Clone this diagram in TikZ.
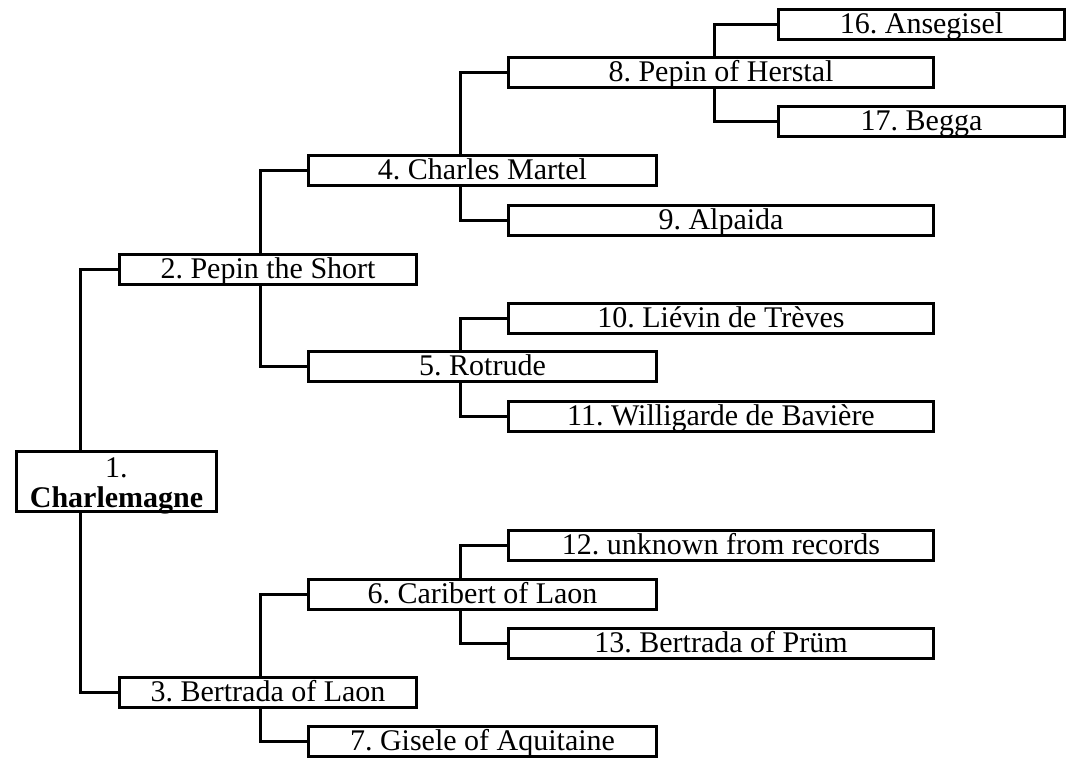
\documentclass[tikz,border=0pt]{standalone}
\usepackage{fontspec}
\setmainfont{Liberation Serif}
\frenchspacing
\usetikzlibrary{positioning}
\tikzset{
  %% ---- boxes ----
  person/.style = {rectangle, draw=black, line width=3pt, fill=white,
                   minimum width=#1, minimum height=30pt, inner sep=0pt,
                   text height=24pt, text depth=6pt,
                   font=\fontsize{30}{34}\selectfont},
  person/.default = 297pt,
  root/.style   = {rectangle, draw=black, line width=3pt, fill=white,
                   minimum width=200pt, minimum height=60pt, inner sep=0pt,
                   text height=52pt, text depth=1pt,
                   align=center, font=\fontsize{30}{30}\selectfont},
  %% ---- connectors ----
  link/.style   = {line width=3pt, color=black},
}
\begin{document}
\begin{tikzpicture}[x=1pt, y=-1pt]
\useasboundingbox (0,0) rectangle (1077,759);
% generation 1 and 2
\node[root]               (n1)  at (116.5,481.5) {1.\\\textbf{Charlemagne}};
\node[person]             (n2)  at (268,269.5)   {2. Pepin the Short};
\node[person]             (n3)  at (268,692)     {3. Bertrada of Laon};
% generation 3
\node[person=348pt]       (n4)  at (482.5,171)   {4. Charles Martel};
\node[person=348pt]       (n5)  at (482.5,367)   {5. Rotrude};
\node[person=348pt]       (n6)  at (482.5,594)   {6. Caribert of Laon};
\node[person=348pt]       (n7)  at (482.5,741)   {7. Gisele of Aquitaine};
% generation 4
\node[person=425pt]       (n8)  at (721,73)      {8. Pepin of Herstal};
\node[person=425pt]       (n9)  at (721,221)     {9. Alpaida};
\node[person=425pt]       (n10) at (721,318.5)   {10. Liévin de Trèves};
\node[person=425pt]       (n11) at (721,416.5)   {11. Willigarde de Bavière};
\node[person=425pt]       (n12) at (721,545.5)   {12. unknown from records};
\node[person=425pt]       (n13) at (721,643)     {13. Bertrada of Prüm};
% generation 5
\node[person=286pt]       (n16) at (921.5,24.5)  {16. Ansegisel};
\node[person=286pt]       (n17) at (921.5,122)   {17. Begga};
% parent links
\draw[link] ([xshift=-36.5pt]n1.north) |- (n2.west);
\draw[link] ([xshift=-36.5pt]n1.south) |- (n3.west);
\draw[link] ([xshift=-8pt]n2.north)    |- (n4.west);
\draw[link] ([xshift=-8pt]n2.south)    |- (n5.west);
\draw[link] ([xshift=-8pt]n3.north)    |- (n6.west);
\draw[link] ([xshift=-8pt]n3.south)    |- (n7.west);
\draw[link] ([xshift=-22.5pt]n4.north) |- (n8.west);
\draw[link] ([xshift=-22.5pt]n4.south) |- (n9.west);
\draw[link] ([xshift=-22.5pt]n5.north) |- (n10.west);
\draw[link] ([xshift=-22.5pt]n5.south) |- (n11.west);
\draw[link] ([xshift=-22.5pt]n6.north) |- (n12.west);
\draw[link] ([xshift=-22.5pt]n6.south) |- (n13.west);
\draw[link] ([xshift=-7pt]n8.north)    |- (n16.west);
\draw[link] ([xshift=-7pt]n8.south)    |- (n17.west);
\end{tikzpicture}
\end{document}
